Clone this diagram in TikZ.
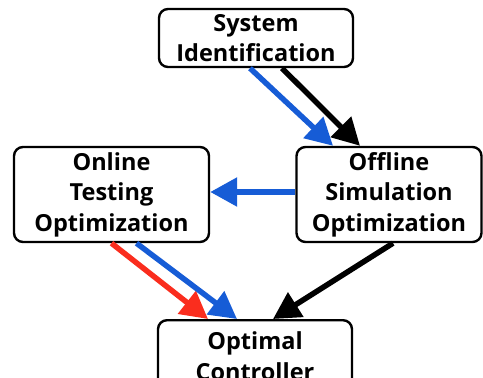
\documentclass[tikz,border=0pt]{standalone}
\usepackage{fontspec}
\setmainfont{Open Sans}
\usetikzlibrary{arrows.meta}
\definecolor{flowblue}{RGB}{22,92,214}
\definecolor{flowred}{RGB}{250,45,30}
\tikzset{
  stage/.style={draw, line width=2.4pt, rounded corners=9pt, align=center,
    font=\bfseries\fontsize{23.5}{30.5}\selectfont, inner sep=0pt},
  flow/.style={line width=5.5pt, -{Triangle[length=27pt,width=28pt]}},
}
\begin{document}
\begin{tikzpicture}[x=1pt, y=-1pt]
  \useasboundingbox (0,0) rectangle (483,378);
  \clip (0,0) rectangle (483,378);
  % stages of the design process
  \node[stage, minimum width=194pt, minimum height=58pt] (sys) at (256,38) {System\\Identification};
  \node[stage, minimum width=195pt, minimum height=95pt] (onl) at (111.5,194.5) {Online\\Testing\\Optimization};
  \node[stage, minimum width=185pt, minimum height=95pt] (off) at (389,194.5) {Offline\\Simulation\\Optimization};
  \node[stage, minimum width=194pt, minimum height=72pt, anchor=north] (opt) at (255,319) {Optimal\\Controller};
  % connections
  \draw[flow, flowblue] ([xshift=-6pt]sys.south) -- ([xshift=-56pt]off.north);
  \draw[flow, black] ([xshift=26pt]sys.south) -- ([xshift=-29pt]off.north);
  \draw[flow, flowblue] ([yshift=2.5pt]off.west) -- ([yshift=2.5pt]onl.east);
  \draw[flow, flowred] ([xshift=0pt]onl.south) -- ([xshift=-47pt]opt.north);
  \draw[flow, flowblue] ([xshift=25pt]onl.south) -- ([xshift=-18pt]opt.north);
  \draw[flow, black] ([xshift=4pt]off.south) -- ([xshift=18pt]opt.north);
\end{tikzpicture}
\end{document}
